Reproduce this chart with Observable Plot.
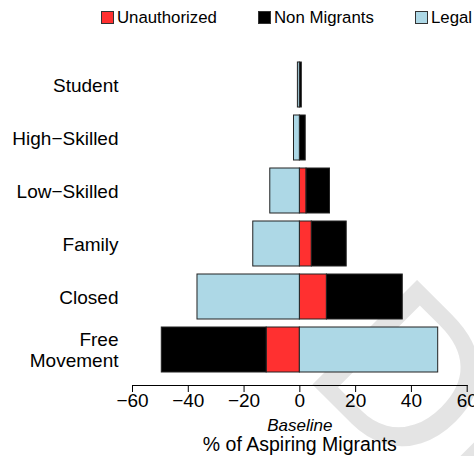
<!DOCTYPE html>
<html>
<head>
<meta charset="utf-8">
<script src="https://cdn.jsdelivr.net/npm/d3@7"></script>
<script src="https://cdn.jsdelivr.net/npm/@observablehq/plot@0.6"></script>
<style>
  html, body { margin: 0; padding: 0; background: white; overflow: hidden; }
  #wrap { position: relative; width: 474px; height: 456px; font-family: "Liberation Sans", Arial, sans-serif; }
  .lg { position: absolute; top: 9.5px; font-size: 16.8px; line-height: 16px; white-space: nowrap; color: #000; }
  .sw { position: absolute; top: 11px; width: 11px; height: 11px; border: 1px solid #333; }
  #wm { position: absolute; left: 0; top: 0; }
</style>
</head>
<body>
<div id="wrap">
  <svg id="wm" width="474" height="456">
    <text transform="translate(300,372) rotate(45)" font-family="Liberation Sans, Arial, sans-serif"
          font-size="215" fill="#e4e4e4">DRAFT</text>
  </svg>
</div>
<script>
// Categories (top to bottom)
const categories = ["Student", "High\u2212Skilled", "Low\u2212Skilled", "Family", "Closed", "Free Movement"];
// Series values (% of aspiring migrants, magnitudes)
const legal        = [0.7, 2.1, 10.6, 16.7, 36.7, 49.6];
const unauthorized = [0.0, 0.0, 2.4, 4.3, 9.7, 11.9];
const nonMigrants  = [0.7, 2.1, 8.4, 12.5, 27.2, 37.6];
// Side on which "Legal" is drawn (-1 = left, +1 = right); the others go opposite
const legalSide    = [-1, -1, -1, -1, -1, 1];
const types = ["Unauthorized", "Non Migrants", "Legal"];
const colors = ["#FF3030", "#000000", "#ADD8E6"];
const xTicks = [-60, -40, -20, 0, 20, 40, 60];

const rows = [];
categories.forEach((c, i) => {
  const s = legalSide[i];
  rows.push({category: c, type: "Unauthorized", value: -s * unauthorized[i]});
  rows.push({category: c, type: "Non Migrants", value: -s * nonMigrants[i]});
  rows.push({category: c, type: "Legal", value: s * legal[i]});
});
const data = rows.filter(d => d.value !== 0);

const chart = Plot.plot({
  width: 474,
  height: 456,
  marginLeft: 132,
  marginRight: 7.3,
  marginTop: 53.6,
  marginBottom: 71,
  style: {fontFamily: "Liberation Sans, Arial, sans-serif", fontSize: "19px", background: "transparent"},
  x: {domain: [-60, 60], label: null},
  y: {domain: categories, padding: 0.153, insetBottom: 4.7, label: null},
  color: {domain: types, range: colors},
  marks: [
    Plot.barX(data, Plot.stackX({
      y: "category", x: "value", fill: "type", z: "type", order: types,
      stroke: "#222", strokeWidth: 1
    })),
    Plot.frame({anchor: "bottom", stroke: "#000"}),
    Plot.axisX({ticks: xTicks, tickSize: 7, tickPadding: 1, fontSize: 19, label: null,
      tickFormat: d => d < 0 ? "\u2212" + Math.abs(d) : String(d)}),
    Plot.axisY({tickSize: 0, tickPadding: 14, fontSize: 19, lineHeight: 1.12, label: null,
      tickFormat: d => d === "Free Movement" ? "Free\nMovement" : d}),
    Plot.text(["Baseline"], {frameAnchor: "bottom", lineAnchor: "middle", dy: 40, fontStyle: "italic", fontSize: 17}),
    Plot.text(["% of Aspiring Migrants"], {frameAnchor: "bottom", lineAnchor: "middle", dy: 59.5, fontSize: 19.5})
  ]
});

const wrap = document.getElementById("wrap");
chart.style.position = "absolute";
chart.style.left = "0px";
chart.style.top = "0px";
wrap.appendChild(chart);

// Legend
const legendX = [101, 258, 415];
types.forEach((t, i) => {
  const sw = document.createElement("div");
  sw.className = "sw";
  sw.style.left = legendX[i] + "px";
  sw.style.background = colors[i];
  wrap.appendChild(sw);
  const lb = document.createElement("div");
  lb.className = "lg";
  lb.style.left = (legendX[i] + 16) + "px";
  lb.textContent = t;
  wrap.appendChild(lb);
});
</script>
</body>
</html>
